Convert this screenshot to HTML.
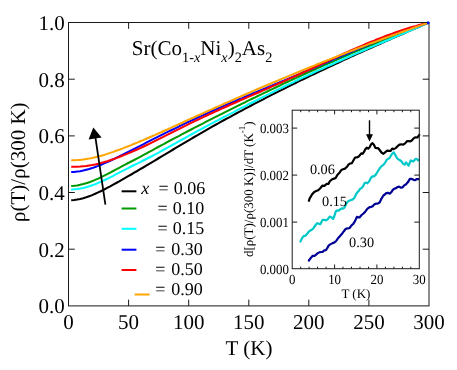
<!DOCTYPE html>
<html><head><meta charset="utf-8"><title>chart</title>
<style>
html,body{margin:0;padding:0;background:#fff;}
body{width:457px;height:370px;overflow:hidden;}
svg{display:block;will-change:transform;}
text{font-family:"Liberation Serif",serif;fill:#000;text-rendering:geometricPrecision;}
.t21{font-size:21px;}
.t18{font-size:18px;}
.t13{font-size:13px;}
.ax{stroke:#1a1a1a;stroke-width:1;fill:none;}
.c{fill:none;stroke-width:2.05;stroke-linejoin:round;stroke-linecap:butt;}
.ic{fill:none;stroke-width:2.2;stroke-linejoin:round;stroke-linecap:round;}
</style></head><body>
<svg width="457" height="370" viewBox="0 0 457 370">
<rect x="0" y="0" width="457" height="370" fill="#ffffff"/>
<path class="c" stroke="#000000" d="M71.2,200.2 L74.2,200.0 L77.2,199.6 L80.2,199.0 L83.2,198.2 L86.2,197.3 L89.2,196.2 L92.2,195.1 L95.2,193.8 L98.2,192.4 L101.2,191.0 L104.2,189.5 L107.2,187.9 L110.2,186.3 L113.2,184.6 L116.2,183.0 L119.2,181.3 L122.2,179.6 L125.2,177.9 L128.2,176.2 L131.2,174.5 L134.2,172.7 L137.2,171.0 L140.2,169.2 L143.2,167.5 L146.2,165.7 L149.2,163.9 L152.2,162.1 L155.2,160.3 L158.2,158.5 L161.2,156.7 L164.2,154.9 L167.2,153.1 L170.2,151.3 L173.2,149.5 L176.2,147.7 L179.2,145.9 L182.2,144.1 L185.2,142.3 L188.2,140.6 L191.2,138.8 L194.2,137.0 L197.2,135.3 L200.2,133.6 L203.2,131.8 L206.2,130.1 L209.2,128.4 L212.2,126.7 L215.2,125.0 L218.2,123.4 L221.2,121.7 L224.2,120.0 L227.2,118.4 L230.2,116.8 L233.2,115.1 L236.2,113.5 L239.2,111.9 L242.2,110.3 L245.2,108.7 L248.2,107.1 L251.2,105.5 L254.2,103.9 L257.2,102.4 L260.2,100.8 L263.2,99.3 L266.2,97.7 L269.2,96.2 L272.2,94.6 L275.2,93.1 L278.2,91.6 L281.2,90.1 L284.2,88.6 L287.2,87.1 L290.2,85.6 L293.2,84.1 L296.2,82.7 L299.2,81.2 L302.2,79.7 L305.2,78.3 L308.2,76.8 L311.2,75.4 L314.2,74.0 L317.2,72.5 L320.2,71.1 L323.2,69.7 L326.2,68.3 L329.2,66.9 L332.2,65.5 L335.2,64.1 L338.2,62.7 L341.2,61.3 L344.2,59.9 L347.2,58.5 L350.2,57.1 L353.2,55.8 L356.2,54.4 L359.2,53.1 L362.2,51.7 L365.2,50.4 L368.2,49.0 L371.2,47.7 L374.2,46.3 L377.2,45.0 L380.2,43.7 L383.2,42.3 L386.2,41.0 L389.2,39.7 L392.2,38.4 L395.2,37.1 L398.2,35.8 L401.2,34.5 L404.2,33.2 L407.2,31.9 L410.2,30.6 L413.2,29.3 L416.2,28.0 L419.2,26.7 L422.2,25.4 L425.2,24.1 L428.2,22.8 L428.5,22.7"/>
<path class="c" stroke="#009900" d="M71.2,186.0 L74.2,185.8 L77.2,185.4 L80.2,184.8 L83.2,184.1 L86.2,183.3 L89.2,182.3 L92.2,181.1 L95.2,179.9 L98.2,178.6 L101.2,177.2 L104.2,175.7 L107.2,174.2 L110.2,172.6 L113.2,171.0 L116.2,169.4 L119.2,167.8 L122.2,166.2 L125.2,164.6 L128.2,163.0 L131.2,161.5 L134.2,160.0 L137.2,158.4 L140.2,156.8 L143.2,155.2 L146.2,153.6 L149.2,151.9 L152.2,150.3 L155.2,148.6 L158.2,147.0 L161.2,145.4 L164.2,143.8 L167.2,142.1 L170.2,140.5 L173.2,138.9 L176.2,137.3 L179.2,135.8 L182.2,134.2 L185.2,132.6 L188.2,131.0 L191.2,129.5 L194.2,127.9 L197.2,126.4 L200.2,124.8 L203.2,123.3 L206.2,121.7 L209.2,120.2 L212.2,118.7 L215.2,117.1 L218.2,115.6 L221.2,114.1 L224.2,112.6 L227.2,111.1 L230.2,109.6 L233.2,108.1 L236.2,106.6 L239.2,105.1 L242.2,103.6 L245.2,102.2 L248.2,100.7 L251.2,99.2 L254.2,97.8 L257.2,96.3 L260.2,94.9 L263.2,93.4 L266.2,92.0 L269.2,90.5 L272.2,89.1 L275.2,87.7 L278.2,86.3 L281.2,84.8 L284.2,83.4 L287.2,82.0 L290.2,80.6 L293.2,79.2 L296.2,77.9 L299.2,76.5 L302.2,75.1 L305.2,73.7 L308.2,72.4 L311.2,71.0 L314.2,69.7 L317.2,68.3 L320.2,67.0 L323.2,65.6 L326.2,64.3 L329.2,63.0 L332.2,61.7 L335.2,60.4 L338.2,59.1 L341.2,57.8 L344.2,56.5 L347.2,55.2 L350.2,53.9 L353.2,52.6 L356.2,51.3 L359.2,50.1 L362.2,48.8 L365.2,47.6 L368.2,46.3 L371.2,45.1 L374.2,43.9 L377.2,42.6 L380.2,41.4 L383.2,40.2 L386.2,39.0 L389.2,37.8 L392.2,36.6 L395.2,35.4 L398.2,34.2 L401.2,33.1 L404.2,31.9 L407.2,30.7 L410.2,29.6 L413.2,28.4 L416.2,27.3 L419.2,26.2 L422.2,25.0 L425.2,23.9 L428.2,22.8 L428.5,22.7"/>
<path class="c" stroke="#00ffff" d="M71.2,189.4 L74.2,189.3 L77.2,189.0 L80.2,188.6 L83.2,188.0 L86.2,187.2 L89.2,186.3 L92.2,185.3 L95.2,184.2 L98.2,182.9 L101.2,181.6 L104.2,180.2 L107.2,178.8 L110.2,177.3 L113.2,175.8 L116.2,174.2 L119.2,172.7 L122.2,171.1 L125.2,169.6 L128.2,168.1 L131.2,166.5 L134.2,165.0 L137.2,163.6 L140.2,162.1 L143.2,160.5 L146.2,159.0 L149.2,157.5 L152.2,156.0 L155.2,154.4 L158.2,152.8 L161.2,151.2 L164.2,149.5 L167.2,147.9 L170.2,146.2 L173.2,144.5 L176.2,142.9 L179.2,141.2 L182.2,139.5 L185.2,137.8 L188.2,136.1 L191.2,134.5 L194.2,132.8 L197.2,131.2 L200.2,129.6 L203.2,128.0 L206.2,126.4 L209.2,124.8 L212.2,123.2 L215.2,121.6 L218.2,120.1 L221.2,118.5 L224.2,116.9 L227.2,115.4 L230.2,113.8 L233.2,112.3 L236.2,110.7 L239.2,109.2 L242.2,107.6 L245.2,106.1 L248.2,104.5 L251.2,103.0 L254.2,101.5 L257.2,100.0 L260.2,98.4 L263.2,96.9 L266.2,95.4 L269.2,93.9 L272.2,92.4 L275.2,90.9 L278.2,89.4 L281.2,88.0 L284.2,86.5 L287.2,85.0 L290.2,83.6 L293.2,82.2 L296.2,80.7 L299.2,79.3 L302.2,77.9 L305.2,76.5 L308.2,75.1 L311.2,73.7 L314.2,72.3 L317.2,70.9 L320.2,69.6 L323.2,68.2 L326.2,66.8 L329.2,65.5 L332.2,64.2 L335.2,62.8 L338.2,61.5 L341.2,60.2 L344.2,58.8 L347.2,57.5 L350.2,56.2 L353.2,54.9 L356.2,53.6 L359.2,52.3 L362.2,51.0 L365.2,49.7 L368.2,48.4 L371.2,47.1 L374.2,45.9 L377.2,44.6 L380.2,43.3 L383.2,42.0 L386.2,40.7 L389.2,39.5 L392.2,38.2 L395.2,36.9 L398.2,35.6 L401.2,34.4 L404.2,33.1 L407.2,31.8 L410.2,30.5 L413.2,29.2 L416.2,28.0 L419.2,26.7 L422.2,25.4 L425.2,24.1 L428.2,22.8 L428.5,22.7"/>
<path class="c" stroke="#0000ff" d="M71.2,172.1 L74.2,172.0 L77.2,171.6 L80.2,171.2 L83.2,170.6 L86.2,169.8 L89.2,169.0 L92.2,168.1 L95.2,167.0 L98.2,165.9 L101.2,164.7 L104.2,163.4 L107.2,162.1 L110.2,160.7 L113.2,159.3 L116.2,157.8 L119.2,156.3 L122.2,154.8 L125.2,153.3 L128.2,151.8 L131.2,150.3 L134.2,148.8 L137.2,147.3 L140.2,145.8 L143.2,144.3 L146.2,142.7 L149.2,141.2 L152.2,139.7 L155.2,138.2 L158.2,136.7 L161.2,135.2 L164.2,133.7 L167.2,132.2 L170.2,130.7 L173.2,129.3 L176.2,127.8 L179.2,126.3 L182.2,124.9 L185.2,123.4 L188.2,122.0 L191.2,120.6 L194.2,119.2 L197.2,117.8 L200.2,116.4 L203.2,115.1 L206.2,113.7 L209.2,112.4 L212.2,111.0 L215.2,109.7 L218.2,108.4 L221.2,107.1 L224.2,105.8 L227.2,104.5 L230.2,103.2 L233.2,101.9 L236.2,100.6 L239.2,99.3 L242.2,98.1 L245.2,96.8 L248.2,95.5 L251.2,94.3 L254.2,93.0 L257.2,91.8 L260.2,90.5 L263.2,89.2 L266.2,88.0 L269.2,86.7 L272.2,85.5 L275.2,84.2 L278.2,83.0 L281.2,81.7 L284.2,80.5 L287.2,79.2 L290.2,77.9 L293.2,76.7 L296.2,75.4 L299.2,74.1 L302.2,72.8 L305.2,71.5 L308.2,70.2 L311.2,69.0 L314.2,67.7 L317.2,66.4 L320.2,65.1 L323.2,63.8 L326.2,62.5 L329.2,61.2 L332.2,59.9 L335.2,58.6 L338.2,57.3 L341.2,56.0 L344.2,54.8 L347.2,53.5 L350.2,52.2 L353.2,50.9 L356.2,49.7 L359.2,48.4 L362.2,47.2 L365.2,46.0 L368.2,44.7 L371.2,43.5 L374.2,42.3 L377.2,41.1 L380.2,39.9 L383.2,38.7 L386.2,37.6 L389.2,36.4 L392.2,35.3 L395.2,34.1 L398.2,33.0 L401.2,31.9 L404.2,30.9 L407.2,29.8 L410.2,28.7 L413.2,27.7 L416.2,26.7 L419.2,25.7 L422.2,24.7 L425.2,23.7 L428.2,22.8 L428.5,22.7"/>
<path class="c" stroke="#ff0000" d="M71.2,166.8 L74.2,166.8 L77.2,166.8 L80.2,166.6 L83.2,166.3 L86.2,166.0 L89.2,165.5 L92.2,165.0 L95.2,164.4 L98.2,163.7 L101.2,162.9 L104.2,162.1 L107.2,161.2 L110.2,160.2 L113.2,159.2 L116.2,158.1 L119.2,157.0 L122.2,155.8 L125.2,154.6 L128.2,153.4 L131.2,152.1 L134.2,150.8 L137.2,149.5 L140.2,148.1 L143.2,146.7 L146.2,145.3 L149.2,143.9 L152.2,142.4 L155.2,140.9 L158.2,139.4 L161.2,137.9 L164.2,136.4 L167.2,134.9 L170.2,133.4 L173.2,131.9 L176.2,130.4 L179.2,128.9 L182.2,127.4 L185.2,125.9 L188.2,124.4 L191.2,122.9 L194.2,121.4 L197.2,120.0 L200.2,118.6 L203.2,117.1 L206.2,115.7 L209.2,114.3 L212.2,113.0 L215.2,111.6 L218.2,110.2 L221.2,108.9 L224.2,107.5 L227.2,106.2 L230.2,104.8 L233.2,103.5 L236.2,102.2 L239.2,100.8 L242.2,99.5 L245.2,98.2 L248.2,96.9 L251.2,95.6 L254.2,94.3 L257.2,93.0 L260.2,91.7 L263.2,90.4 L266.2,89.1 L269.2,87.7 L272.2,86.4 L275.2,85.1 L278.2,83.8 L281.2,82.5 L284.2,81.1 L287.2,79.8 L290.2,78.4 L293.2,77.1 L296.2,75.7 L299.2,74.3 L302.2,73.0 L305.2,71.6 L308.2,70.2 L311.2,68.8 L314.2,67.4 L317.2,66.0 L320.2,64.6 L323.2,63.2 L326.2,61.8 L329.2,60.4 L332.2,59.0 L335.2,57.7 L338.2,56.3 L341.2,54.9 L344.2,53.5 L347.2,52.2 L350.2,50.8 L353.2,49.5 L356.2,48.2 L359.2,46.9 L362.2,45.6 L365.2,44.3 L368.2,43.0 L371.2,41.8 L374.2,40.6 L377.2,39.3 L380.2,38.2 L383.2,37.0 L386.2,35.8 L389.2,34.7 L392.2,33.6 L395.2,32.5 L398.2,31.5 L401.2,30.5 L404.2,29.5 L407.2,28.5 L410.2,27.6 L413.2,26.7 L416.2,25.9 L419.2,25.0 L422.2,24.2 L425.2,23.5 L428.2,22.8 L428.5,22.7"/>
<path class="c" stroke="#ffa500" d="M71.2,160.2 L74.2,160.2 L77.2,160.1 L80.2,159.9 L83.2,159.5 L86.2,159.1 L89.2,158.6 L92.2,158.0 L95.2,157.3 L98.2,156.5 L101.2,155.7 L104.2,154.9 L107.2,153.9 L110.2,152.9 L113.2,151.9 L116.2,150.8 L119.2,149.7 L122.2,148.6 L125.2,147.4 L128.2,146.3 L131.2,145.1 L134.2,143.8 L137.2,142.6 L140.2,141.3 L143.2,140.1 L146.2,138.8 L149.2,137.5 L152.2,136.2 L155.2,134.9 L158.2,133.5 L161.2,132.2 L164.2,130.8 L167.2,129.5 L170.2,128.1 L173.2,126.8 L176.2,125.4 L179.2,124.0 L182.2,122.7 L185.2,121.3 L188.2,119.9 L191.2,118.5 L194.2,117.2 L197.2,115.8 L200.2,114.5 L203.2,113.1 L206.2,111.8 L209.2,110.4 L212.2,109.1 L215.2,107.7 L218.2,106.4 L221.2,105.1 L224.2,103.7 L227.2,102.4 L230.2,101.1 L233.2,99.8 L236.2,98.4 L239.2,97.1 L242.2,95.8 L245.2,94.5 L248.2,93.2 L251.2,91.9 L254.2,90.6 L257.2,89.3 L260.2,88.0 L263.2,86.8 L266.2,85.5 L269.2,84.2 L272.2,82.9 L275.2,81.7 L278.2,80.4 L281.2,79.1 L284.2,77.9 L287.2,76.6 L290.2,75.4 L293.2,74.2 L296.2,72.9 L299.2,71.7 L302.2,70.4 L305.2,69.2 L308.2,68.0 L311.2,66.8 L314.2,65.6 L317.2,64.3 L320.2,63.1 L323.2,61.9 L326.2,60.7 L329.2,59.6 L332.2,58.4 L335.2,57.2 L338.2,56.0 L341.2,54.8 L344.2,53.7 L347.2,52.5 L350.2,51.3 L353.2,50.2 L356.2,49.0 L359.2,47.9 L362.2,46.7 L365.2,45.6 L368.2,44.4 L371.2,43.3 L374.2,42.2 L377.2,41.1 L380.2,40.0 L383.2,38.8 L386.2,37.7 L389.2,36.6 L392.2,35.5 L395.2,34.5 L398.2,33.4 L401.2,32.3 L404.2,31.2 L407.2,30.1 L410.2,29.1 L413.2,28.0 L416.2,27.0 L419.2,25.9 L422.2,24.9 L425.2,23.8 L428.2,22.8 L428.5,22.7"/>
<rect class="ax" x="68.5" y="22.5" width="360.5" height="283.4"/>
<path class="ax" d="M68.5,249.2h6.3M429.0,249.2h-6.3M68.5,192.5h6.3M429.0,192.5h-6.3M68.5,135.9h6.3M429.0,135.9h-6.3M68.5,79.2h6.3M429.0,79.2h-6.3M128.6,22.5v6.3M128.6,305.9v-6.3M188.7,22.5v6.3M188.7,305.9v-6.3M248.8,22.5v6.3M248.8,305.9v-6.3M308.8,22.5v6.3M308.8,305.9v-6.3M368.9,22.5v6.3M368.9,305.9v-6.3"/>
<circle cx="428.2" cy="22.9" r="1.3" fill="#0000ff"/>
<text class="t21" x="64.7" y="313.2" text-anchor="end">0.0</text>
<text class="t21" x="64.7" y="256.5" text-anchor="end">0.2</text>
<text class="t21" x="64.7" y="199.8" text-anchor="end">0.4</text>
<text class="t21" x="64.7" y="143.2" text-anchor="end">0.6</text>
<text class="t21" x="64.7" y="86.5" text-anchor="end">0.8</text>
<text class="t21" x="64.7" y="29.8" text-anchor="end">1.0</text>
<text class="t21" x="68.5" y="329.2" text-anchor="middle">0</text>
<text class="t21" x="128.6" y="329.2" text-anchor="middle">50</text>
<text class="t21" x="188.7" y="329.2" text-anchor="middle">100</text>
<text class="t21" x="248.8" y="329.2" text-anchor="middle">150</text>
<text class="t21" x="308.8" y="329.2" text-anchor="middle">200</text>
<text class="t21" x="368.9" y="329.2" text-anchor="middle">250</text>
<text class="t21" x="429.0" y="329.2" text-anchor="middle">300</text>
<text class="t21" x="249" y="354.8" text-anchor="middle">T (K)</text>
<text class="t21" transform="translate(24.8,162.2) rotate(-90)" text-anchor="middle">ρ(T)/ρ(300 K)</text>
<text class="t21" x="131.8" y="55">Sr(Co<tspan font-size="14.3" dy="6.6">1-<tspan font-style="italic">x</tspan></tspan><tspan dy="-6.6">Ni</tspan><tspan font-size="14.3" dy="6.6" font-style="italic">x</tspan><tspan dy="-6.6">)</tspan><tspan font-size="14.3" dy="6.6">2</tspan><tspan dy="-6.6">As</tspan><tspan font-size="14.3" dy="6.6">2</tspan></text>
<path d="M105.4,204.6L95.5,138" stroke="#000" stroke-width="1.75" fill="none"/>
<path d="M93.3,127.5L88.6,139.4L101.6,137.4Z" fill="#000"/>
<path d="M121.6,191.3H136.4" stroke="#000000" stroke-width="2" fill="none"/>
<text class="t18" x="141.3" y="194" font-style="italic">x</text>
<text class="t18" x="158.6" y="194">=</text>
<text class="t18" x="173.8" y="194">0.06</text>
<path d="M121.6,208.5H136.4" stroke="#009900" stroke-width="2" fill="none"/>
<text class="t18" x="157.5" y="214.1">=</text>
<text class="t18" x="172.7" y="214.1">0.10</text>
<path d="M121.6,228.8H136.4" stroke="#00ffff" stroke-width="2" fill="none"/>
<text class="t18" x="157.5" y="234.2">=</text>
<text class="t18" x="172.7" y="234.2">0.15</text>
<path d="M121.6,249.7H136.4" stroke="#0000ff" stroke-width="2" fill="none"/>
<text class="t18" x="155.3" y="254.7">=</text>
<text class="t18" x="171.2" y="254.7">0.30</text>
<path d="M121.6,270H136.4" stroke="#ff0000" stroke-width="2" fill="none"/>
<text class="t18" x="155.3" y="275">=</text>
<text class="t18" x="171.2" y="275">0.50</text>
<path d="M134.7,294.5H149.6" stroke="#ffa500" stroke-width="2" fill="none"/>
<text class="t18" x="155.3" y="295.2">=</text>
<text class="t18" x="171.2" y="295.2">0.90</text>
<rect x="292.2" y="110.2" width="127.10000000000002" height="158.5" fill="#fff" stroke="none"/>
<path class="ic" stroke="#000096" d="M308.9,260.5 L310.8,257.9 L312.7,255.8 L314.1,255.9 L315.5,255.2 L317.4,253.4 L319.3,252.4 L321.2,252.0 L322.8,251.8 L324.3,250.3 L325.9,250.1 L327.4,247.9 L328.8,245.4 L330.7,244.1 L332.6,243.1 L334.5,242.4 L336.4,240.7 L338.2,238.0 L340.1,235.9 L342.0,233.8 L343.9,231.2 L345.4,229.3 L346.8,228.4 L348.2,228.5 L349.6,228.0 L351.5,225.4 L353.4,223.7 L355.0,221.1 L356.9,216.9 L358.3,217.4 L359.7,217.3 L361.6,215.0 L363.5,213.5 L365.4,211.4 L367.3,208.8 L369.2,207.4 L371.1,206.9 L372.7,206.3 L374.2,204.4 L375.8,203.7 L377.7,203.6 L379.6,202.5 L381.5,198.6 L383.4,195.5 L384.8,194.5 L386.2,193.1 L388.1,192.9 L390.0,193.6 L391.4,192.1 L392.8,189.9 L394.4,188.7 L396.0,188.1 L397.6,187.0 L399.2,186.6 L400.7,187.6 L402.3,187.4 L404.2,185.4 L406.1,184.2 L408.0,182.1 L409.9,178.9 L411.8,178.9 L413.6,179.8 L415.2,180.1 L416.8,179.0 L418.4,179.1"/>
<path class="ic" stroke="#00c8c8" d="M300.4,241.6 L302.3,237.8 L303.9,235.9 L305.4,235.8 L307.0,234.1 L308.9,231.5 L310.8,230.3 L312.7,229.1 L314.6,226.5 L316.0,224.5 L317.4,223.1 L318.9,223.9 L320.3,224.2 L322.5,219.9 L324.2,219.8 L325.9,220.4 L327.8,219.2 L329.7,216.6 L331.4,217.3 L333.1,218.9 L334.5,215.7 L335.8,211.4 L337.2,210.4 L338.7,210.6 L340.1,209.5 L341.6,208.4 L343.0,208.6 L344.5,207.6 L346.8,202.8 L348.6,201.0 L350.5,200.2 L352.4,199.6 L354.3,198.0 L356.5,193.5 L358.8,190.8 L360.2,188.7 L361.6,188.0 L363.1,186.2 L364.5,183.2 L365.9,182.6 L367.3,183.4 L369.2,181.2 L371.1,177.6 L372.5,176.3 L373.9,176.5 L375.8,174.6 L377.7,171.5 L379.6,168.5 L381.5,166.1 L383.4,164.9 L385.3,162.3 L386.7,159.9 L388.1,158.9 L389.5,158.0 L390.9,155.7 L392.4,153.5 L393.8,152.3 L395.7,155.7 L397.1,158.2 L398.5,159.5 L399.9,160.1 L401.4,161.4 L403.0,163.7 L404.6,164.6 L406.1,162.3 L408.5,165.7 L410.8,160.4 L413.3,161.4 L415.5,158.9 L416.9,159.1 L418.4,160.4"/>
<path class="ic" stroke="#000000" d="M308.9,200.8 L309.7,198.4 L312.2,194.3 L314.2,192.0 L316.2,191.1 L318.2,190.2 L320.3,188.2 L322.3,185.7 L324.3,185.9 L326.8,183.8 L328.4,183.9 L330.0,181.0 L332.1,179.3 L334.1,178.6 L335.7,178.0 L337.3,174.9 L339.7,172.4 L341.4,169.9 L343.0,169.2 L345.0,168.6 L347.0,166.8 L348.6,164.4 L350.3,163.5 L351.9,163.2 L353.5,160.3 L355.1,157.5 L356.8,157.4 L358.4,156.7 L360.0,155.1 L361.3,153.4 L362.6,153.8 L364.0,151.9 L365.4,149.1 L366.8,147.7 L368.2,148.7 L369.6,147.3 L371.1,144.3 L372.5,143.1 L373.9,144.7 L375.4,147.9 L376.8,148.1 L378.2,148.1 L379.6,150.0 L381.5,152.5 L383.4,153.8 L385.3,152.1 L387.2,150.7 L389.1,150.9 L390.7,150.8 L392.2,148.6 L393.8,149.1 L395.7,148.1 L397.6,146.2 L399.5,144.6 L401.4,144.3 L403.2,144.7 L405.1,143.4 L407.0,141.2 L408.9,141.1 L410.4,141.4 L411.8,140.5 L413.6,138.4 L415.5,137.3 L417.4,137.5 L419.3,134.9"/>
<rect class="ax" x="292.2" y="110.2" width="127.10000000000002" height="158.5"/>
<path class="ax" d="M300.7,110.2v2.0M300.7,268.7v-2.0M309.1,110.2v2.0M309.1,268.7v-2.0M317.6,110.2v2.0M317.6,268.7v-2.0M326.1,110.2v2.0M326.1,268.7v-2.0M334.6,110.2v4.2M334.6,268.7v-4.2M343.0,110.2v2.0M343.0,268.7v-2.0M351.5,110.2v2.0M351.5,268.7v-2.0M360.0,110.2v2.0M360.0,268.7v-2.0M368.5,110.2v2.0M368.5,268.7v-2.0M376.9,110.2v4.2M376.9,268.7v-4.2M385.4,110.2v2.0M385.4,268.7v-2.0M393.9,110.2v2.0M393.9,268.7v-2.0M402.4,110.2v2.0M402.4,268.7v-2.0M410.8,110.2v2.0M410.8,268.7v-2.0M292.2,222.1h5M419.3,222.1h-5M292.2,175.1h5M419.3,175.1h-5M292.2,128.1h5M419.3,128.1h-5"/>
<text class="t13" style="font-size:14px" transform="translate(288.9,273.8) scale(0.92,1)" text-anchor="end">0.000</text>
<text class="t13" style="font-size:14px" transform="translate(288.9,226.8) scale(0.92,1)" text-anchor="end">0.001</text>
<text class="t13" style="font-size:14px" transform="translate(288.9,179.8) scale(0.92,1)" text-anchor="end">0.002</text>
<text class="t13" style="font-size:14px" transform="translate(288.9,132.8) scale(0.92,1)" text-anchor="end">0.003</text>
<text class="t13" style="font-size:14px" transform="translate(292.2,283.8) scale(0.92,1)" text-anchor="middle">0</text>
<text class="t13" style="font-size:14px" transform="translate(334.6,283.8) scale(0.92,1)" text-anchor="middle">10</text>
<text class="t13" style="font-size:14px" transform="translate(376.9,283.8) scale(0.92,1)" text-anchor="middle">20</text>
<text class="t13" style="font-size:14px" transform="translate(419.3,283.8) scale(0.92,1)" text-anchor="middle">30</text>
<text class="t13" x="355.9" y="298" text-anchor="middle">T (K)</text>
<text class="t13" transform="translate(252.8,189.2) rotate(-90)" text-anchor="middle">d[ρ(T)/ρ(300 K)]/dT (K<tspan font-size="9" dy="-7.8">-1</tspan><tspan dy="7.8">)</tspan></text>
<text class="t13" style="font-size:14.3px" x="309.9" y="174">0.06</text>
<text class="t13" style="font-size:14.3px" x="322.0" y="205.6">0.15</text>
<text class="t13" style="font-size:14.3px" x="349.1" y="246.9">0.30</text>
<path d="M369.5,120.3V136" stroke="#000" stroke-width="1.4" fill="none"/>
<path d="M369.5,141.5L366,134.3L373,134.3Z" fill="#000"/>
</svg></body></html>
